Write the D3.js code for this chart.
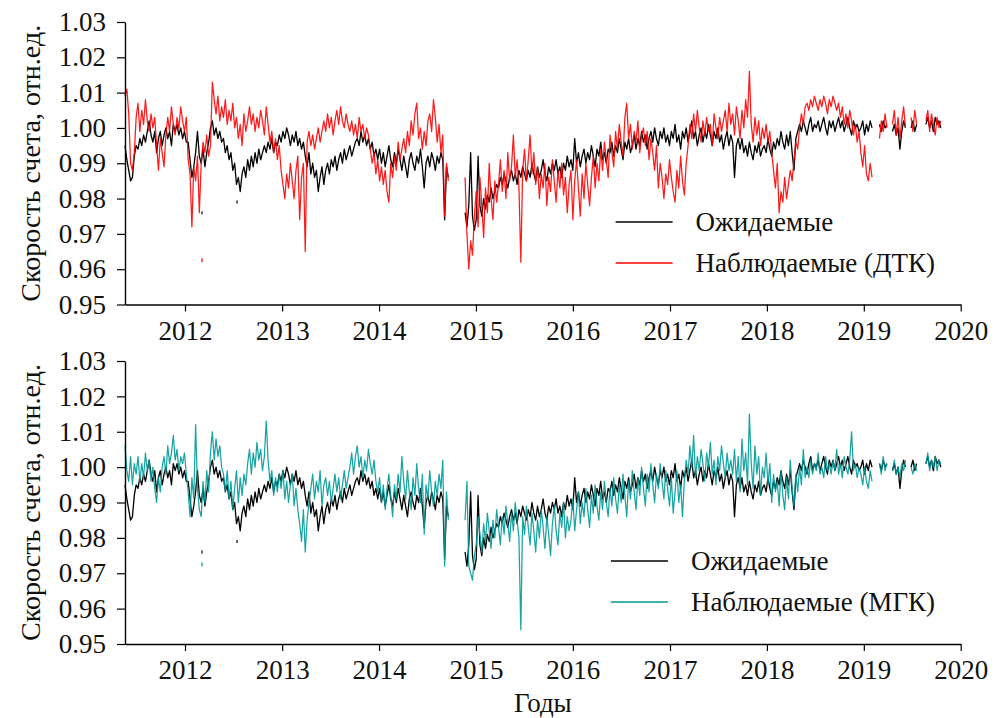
<!DOCTYPE html>
<html>
<head>
<meta charset="utf-8">
<script src="https://cdn.jsdelivr.net/npm/d3@7"></script>
<style>
  html, body { margin: 0; padding: 0; background: #ffffff; }
  svg text { font-family: "Liberation Serif", "Tinos", "Times New Roman", "DejaVu Serif", serif; fill: #111; }
</style>
</head>
<body>
<svg id="chart" width="994" height="718"></svg>
<script>
// Weekly samples of the count rate (relative units), starting 20 May 2011.
// null marks weeks without measurements.
const firstSample = "2011-05-20";
const stepDays = 7;

// Expected count rate
const expected2011 = [0.995,0.991,0.988,0.985,0.986,0.992,0.995,0.994,0.997,0.995,
  0.998,0.996,0.999,1.002,0.998,0.996,0.999,0.993,0.997,0.999,
  0.995,0.998,1.000,0.997,0.999,0.995,1.001,0.999,1.001,0.998,
  1.000,0.997];
const expected2012 = [0.999,0.996,0.996,0.991,0.986,0.989,0.993,0.999,0.992,0.990,
  0.994,0.989,0.993,0.996,1.000,1.002,0.998,1.000,0.997,0.999,
  0.996,0.997,0.993,0.995,0.991,0.993,0.988,0.990,0.984,0.986,
  0.982,0.987,0.989,0.986,0.991,0.988,0.992,0.989,0.993,0.990,
  0.994,0.991,0.993,0.995,0.993,0.996,0.994,0.997,0.993,0.996,
  0.995,0.998];
const expected2013 = [0.996,0.999,0.997,1.000,0.998,0.995,0.998,0.996,0.999,0.995,
  0.997,0.994,0.996,0.992,0.989,0.993,0.987,0.990,0.986,0.988,
  0.982,0.986,0.989,0.984,0.988,0.990,0.987,0.991,0.989,0.992,
  0.988,0.991,0.993,0.990,0.994,0.991,0.993,0.995,0.992,0.994,
  0.996,0.997,0.995,0.999,0.996,0.998,0.995,0.997,0.994,0.996,
  0.992,0.994];
const expected2014 = [0.991,0.994,0.990,0.993,0.989,0.992,0.995,0.991,0.989,0.993,
  0.990,0.994,0.991,0.988,0.992,0.989,0.986,0.991,0.993,0.990,
  0.988,0.992,0.990,0.994,0.989,0.983,0.990,0.992,0.989,0.993,
  0.991,0.988,0.992,0.990,0.993,0.991,0.974,0.989,0.986,null,
  null,null,null,null,null,null,null,0.976,0.972,0.978,
  0.993,0.975];
const expected2015 = [0.971,0.974,0.992,0.978,0.975,0.980,0.977,0.981,0.979,0.983,
  0.980,0.982,0.984,0.983,0.986,0.984,0.987,0.985,0.983,0.986,
  0.988,0.985,0.987,0.984,0.988,0.986,0.989,0.987,0.985,0.988,
  0.986,0.990,0.987,0.985,0.989,0.986,0.988,0.991,0.987,0.985,
  0.989,0.987,0.990,0.988,0.991,0.987,0.989,0.986,0.990,0.988,
  0.992,0.989];
const expected2016 = [0.991,0.988,0.997,0.990,0.993,0.989,0.992,0.994,0.990,0.993,
  0.991,0.995,0.992,0.989,0.994,0.992,0.996,0.991,0.993,0.990,
  0.994,0.993,0.996,0.992,0.995,0.993,0.997,0.994,0.991,0.996,
  0.994,0.997,0.993,0.995,0.998,0.994,0.997,0.995,0.999,0.996,
  0.998,0.994,0.997,0.999,0.996,1.000,0.997,0.995,0.999,0.997,
  1.000,0.996];
const expected2017 = [0.998,0.995,0.999,0.997,1.001,0.996,0.998,0.994,0.999,0.997,
  1.000,0.996,0.999,1.002,0.997,0.999,0.995,0.998,1.000,0.996,
  0.999,0.997,1.001,0.998,0.995,0.999,0.997,1.000,0.996,0.998,
  0.994,0.997,0.999,0.995,0.998,0.996,0.986,0.995,0.997,0.994,
  0.997,0.993,0.995,0.992,0.996,0.993,0.991,0.995,0.993,0.996,
  0.992,0.994];
const expected2018 = [0.995,0.993,0.997,0.994,0.992,0.996,0.994,0.997,0.995,0.999,
  0.996,0.994,0.998,0.995,0.999,0.993,0.988,0.997,0.999,1.001,
  0.999,1.002,1.000,0.998,1.001,1.003,0.999,1.001,1.000,1.002,
  0.999,1.001,1.003,1.000,0.998,1.002,1.000,1.002,0.999,1.001,
  1.003,1.000,1.002,0.999,1.001,1.003,1.000,0.998,1.002,1.000,
  1.001,0.999];
const expected2019 = [1.000,1.002,0.998,1.001,0.999,1.002,1.000,null,null,null,
  1.001,0.999,1.002,1.000,1.001,null,null,0.999,1.001,0.998,
  1.000,0.994,0.999,1.002,1.000,null,null,1.000,1.002,0.999,
  1.001,null,null,null,null,1.001,1.003,1.000,1.002,0.999,
  1.003,1.001,1.002,1.000];

// Observed count rate, DTK detector
const dtk2011 = [1.009,1.011,1.004,0.990,0.988,0.993,1.003,1.007,0.999,1.005,
  1.001,1.008,1.002,0.999,1.004,1.000,1.003,0.995,0.988,0.997,
  0.993,0.989,0.998,1.003,0.999,1.006,1.001,0.998,1.003,1.000,
  1.006,1.002];
const dtk2012 = [0.999,1.003,0.991,0.987,0.972,0.989,0.985,0.992,0.976,0.990,
  0.996,0.993,0.998,0.992,0.995,1.013,1.008,1.004,1.009,1.002,
  1.006,1.003,1.008,1.001,1.005,1.002,1.007,1.000,1.003,0.997,
  1.001,0.995,1.004,0.999,1.002,1.006,1.001,1.004,0.999,1.003,
  1.000,1.005,1.002,0.998,1.006,1.001,0.996,0.999,0.993,0.997,
  0.991,0.995];
const dtk2013 = [0.988,0.984,0.980,0.987,0.983,0.990,0.985,0.980,0.988,0.992,
  0.974,0.986,0.990,0.965,0.996,0.999,0.995,0.998,0.994,0.997,
  1.000,0.996,0.999,1.002,0.999,1.004,1.000,1.003,0.998,1.002,
  1.005,1.001,1.006,1.002,1.000,1.004,1.001,0.999,1.002,0.998,
  1.001,0.997,1.003,0.999,1.001,0.997,1.000,0.998,0.994,0.990,
  0.993,0.987];
const dtk2014 = [0.991,0.985,0.989,0.984,0.988,0.982,0.979,0.990,0.986,0.992,
  0.988,0.996,0.991,0.994,0.997,0.993,0.999,0.995,1.002,0.998,
  1.004,1.007,0.997,1.000,0.994,0.999,0.995,1.002,1.004,0.999,
  1.008,1.003,0.996,1.001,0.993,0.998,0.975,0.990,0.985,null,
  null,null,null,null,null,null,null,0.986,0.970,0.960,
  0.968,0.964];
const dtk2015 = [0.975,0.982,0.972,0.986,0.978,0.969,0.983,0.976,0.990,0.980,
  0.974,0.985,0.979,0.984,0.991,0.982,0.988,0.980,0.993,0.985,
  0.989,0.998,0.986,0.991,0.983,0.962,0.988,0.994,0.985,0.991,
  0.998,0.987,0.993,0.984,0.989,0.980,0.987,0.983,0.990,0.978,
  0.986,0.982,0.991,0.985,0.979,0.988,0.983,0.990,0.981,0.986,
  0.976,0.984];
const dtk2016 = [0.988,0.974,0.985,0.991,0.983,0.975,0.987,0.980,0.990,0.984,
  0.978,0.986,0.992,0.983,0.990,0.985,0.994,0.988,0.996,0.991,
  0.986,0.998,0.993,0.989,0.999,0.994,1.001,0.996,0.992,1.003,
  1.007,0.997,1.001,0.994,0.999,0.996,1.002,0.993,0.998,1.000,
  0.995,0.999,0.991,0.997,0.993,0.988,0.995,0.983,0.990,0.986,
  0.980,0.987];
const dtk2017 = [0.984,0.991,0.986,0.982,0.979,0.988,0.983,0.992,0.985,0.981,
  0.990,0.995,1.001,0.997,1.004,0.999,1.005,1.000,0.996,1.002,
  0.998,1.003,0.999,1.001,0.995,1.004,1.000,0.997,1.003,0.999,
  1.002,1.005,0.999,1.007,1.001,1.004,0.998,1.006,1.002,0.997,
  1.005,1.000,1.008,1.003,1.016,1.001,0.996,1.003,0.998,1.002,
  0.995,1.000];
const dtk2018 = [0.997,1.001,0.996,0.999,0.993,0.988,0.983,0.990,0.976,0.982,
  0.979,0.986,0.980,0.984,0.988,0.985,0.991,0.996,0.994,1.000,
  1.004,1.001,1.006,1.007,1.005,1.008,1.006,1.009,1.007,1.005,
  1.008,1.006,1.009,1.007,1.004,1.008,1.006,1.009,1.007,1.005,
  1.007,1.003,1.006,1.001,1.004,1.000,1.005,1.002,0.998,1.001,
  0.996,0.999];
const dtk2019 = [0.993,0.989,0.995,0.987,0.985,0.990,0.986,null,null,null,
  0.997,1.002,0.999,1.004,1.000,null,null,1.001,1.005,0.998,
  1.003,0.997,1.002,1.006,1.000,null,null,1.003,0.999,1.005,
  1.001,null,null,null,null,1.002,1.005,0.999,1.004,1.001,
  0.998,1.003,1.000,1.002];

// Observed count rate, MGK detector
const mgk2011 = [1.006,0.999,0.996,1.003,0.995,1.001,0.998,1.003,0.996,1.001,
  0.997,1.004,0.999,1.002,0.996,1.000,0.994,0.990,0.997,0.993,
  1.000,1.003,0.998,1.006,1.001,1.004,1.009,1.002,1.005,0.999,
  1.003,1.001];
const mgk2012 = [1.004,0.998,0.993,0.986,0.997,0.991,1.012,0.994,0.988,0.986,
  0.996,0.990,0.999,0.993,1.004,1.010,1.002,1.008,1.003,1.006,
  1.000,0.998,0.993,0.999,0.991,0.996,0.988,0.994,0.999,0.990,
  0.997,0.992,0.998,0.995,1.001,1.005,0.998,1.004,1.000,1.007,
  1.002,1.005,0.999,1.003,1.013,1.002,0.996,0.999,0.992,0.997,
  0.993,0.998];
const mgk2013 = [0.994,0.999,0.991,0.996,0.990,0.995,0.998,0.989,0.994,0.988,
  0.984,0.979,0.988,0.976,0.985,0.990,0.994,0.998,0.991,0.996,
  0.993,0.999,0.989,0.995,0.997,0.992,0.996,0.990,0.994,0.998,
  0.993,0.997,0.991,0.995,0.999,0.994,0.997,1.000,1.004,0.998,
  1.003,1.006,1.000,1.003,0.997,1.002,0.999,1.005,1.001,0.998,
  1.002,0.996];
const mgk2014 = [0.993,0.997,0.990,0.995,0.988,0.994,0.998,0.992,0.986,0.995,
  0.991,0.998,0.993,1.003,0.996,0.991,0.999,0.993,0.988,0.997,
  0.992,1.001,0.994,0.990,0.998,0.981,0.995,0.991,0.999,0.993,
  0.989,0.996,0.992,0.998,0.994,1.002,0.972,0.993,0.985,null,
  null,null,null,null,null,null,null,0.985,0.996,0.972,
  0.970,0.968];
const mgk2015 = [0.975,0.978,0.986,0.981,0.976,0.984,0.979,0.987,0.982,0.977,
  0.985,0.980,0.988,0.983,0.978,0.986,0.981,0.989,0.984,0.979,
  0.987,0.982,0.990,0.985,0.980,0.954,0.986,0.981,0.989,0.983,
  0.978,0.987,0.982,0.976,0.985,0.980,0.988,0.983,0.977,0.986,
  0.981,0.975,0.984,0.989,0.982,0.978,0.987,0.983,0.990,0.980,
  0.986,0.982];
const mgk2016 = [0.985,0.991,0.982,0.988,0.993,0.984,0.990,0.986,0.994,0.988,
  0.983,0.992,0.987,0.995,0.989,0.985,0.993,0.988,0.996,0.990,
  0.986,0.994,0.989,0.997,0.991,0.987,0.995,0.990,0.998,0.992,
  0.986,0.996,0.991,0.999,0.993,0.988,0.997,0.992,1.000,0.994,
  0.989,0.998,0.993,1.001,0.995,0.990,0.998,0.994,1.001,0.996,
  0.991,0.999];
const mgk2017 = [0.994,0.989,0.997,0.987,0.993,0.999,0.990,0.995,0.986,0.996,
  1.002,0.998,1.006,1.000,1.009,0.997,1.003,0.999,1.005,1.001,
  0.996,1.004,1.000,1.007,0.998,1.002,0.995,1.003,0.999,1.006,
  1.001,0.997,1.004,0.999,1.002,0.998,1.005,0.996,1.003,0.993,
  1.008,0.999,1.004,0.995,1.015,1.001,0.994,1.006,0.998,1.003,
  0.992,1.000];
const mgk2018 = [0.997,1.004,0.995,1.001,0.990,0.998,0.993,0.996,0.989,0.999,
  0.992,0.988,0.997,0.991,1.002,0.994,0.989,0.998,0.993,1.000,
  0.995,1.005,0.997,1.000,0.997,1.002,0.998,1.001,0.999,1.004,
  0.998,1.000,0.997,1.003,0.999,1.001,0.998,1.002,0.999,1.005,
  0.998,1.001,0.997,1.003,1.000,0.998,1.002,1.010,0.999,1.001,
  0.997,1.000];
const mgk2019 = [0.998,0.995,1.000,0.996,0.994,0.999,0.996,null,null,null,
  1.001,0.998,1.003,0.999,1.001,null,null,0.999,1.002,0.998,
  1.000,0.997,1.001,0.999,1.002,null,null,1.000,0.998,1.001,
  0.999,null,null,null,null,1.001,1.004,0.999,1.002,1.000,
  1.003,0.999,1.002,1.001];

// Single isolated readings (date, value)
const strayExpected = [["2012-03-05", 0.976], ["2012-07-15", 0.979]];
const strayDTK = [["2012-03-05", 0.9625]];
const strayMGK = [["2012-03-05", 0.9725]];

// Axis ticks and labels
const yearTicks = [2012, 2013, 2014, 2015, 2016, 2017, 2018, 2019, 2020];
const rateTicks = [0.95, 0.96, 0.97, 0.98, 0.99, 1.00, 1.01, 1.02, 1.03];
const rateDomain = [0.95, 1.03];
const xDomainEnd = "2020-01-01";
const yLabel = "Скорость счета, отн.ед.";
const xLabel = "Годы";
const expectedName = "Ожидаемые";
const dtkName = "Наблюдаемые (ДТК)";
const mgkName = "Наблюдаемые (МГК)";

// ---------------------------------------------------------------
const parse = d3.timeParse("%Y-%m-%d");
const start = parse(firstSample);
const toSeries = arr => arr.map((v, i) => ({ date: d3.timeDay.offset(start, i * stepDays), v }));
const toStray = arr => arr.map(([d, v]) => ({ date: parse(d), v }));

const expected = toSeries([].concat(expected2011, expected2012, expected2013, expected2014,
  expected2015, expected2016, expected2017, expected2018, expected2019));
const dtk = toSeries([].concat(dtk2011, dtk2012, dtk2013, dtk2014, dtk2015,
  dtk2016, dtk2017, dtk2018, dtk2019));
const mgk = toSeries([].concat(mgk2011, mgk2012, mgk2013, mgk2014, mgk2015,
  mgk2016, mgk2017, mgk2018, mgk2019));

const FONT = "'Liberation Serif', 'Tinos', 'Times New Roman', 'DejaVu Serif', serif";
const svg = d3.select("#chart");

const x = d3.scaleTime()
  .domain([start, parse(xDomainEnd)])
  .range([125, 960.7]);

const panels = [
  { top: 22, bottom: 304.5, obs: dtk, stray: strayDTK, color: "#ff0000", name: dtkName },
  { top: 361, bottom: 644, obs: mgk, stray: strayMGK, color: "#009a9a", name: mgkName }
];

panels.forEach(p => {
  const y = d3.scaleLinear().domain(rateDomain).range([p.bottom, p.top]);
  const g = svg.append("g");

  const line = d3.line()
    .defined(d => d.v != null)
    .x(d => x(d.date))
    .y(d => y(d.v));

  // expected series
  g.append("path")
    .datum(expected)
    .attr("d", line)
    .attr("fill", "none")
    .attr("stroke", "#000")
    .attr("stroke-width", 1.3)
    .attr("stroke-linejoin", "round");

  g.selectAll(".strayE")
    .data(toStray(strayExpected))
    .join("line")
    .attr("x1", d => x(d.date)).attr("x2", d => x(d.date))
    .attr("y1", d => y(d.v) - 1.5).attr("y2", d => y(d.v) + 1.5)
    .attr("stroke", "#000").attr("stroke-width", 1.2);

  // observed series
  g.append("path")
    .datum(p.obs)
    .attr("d", line)
    .attr("fill", "none")
    .attr("stroke", p.color)
    .attr("stroke-width", 1.25)
    .attr("stroke-opacity", 0.9)
    .attr("stroke-linejoin", "round");

  g.selectAll(".strayO")
    .data(toStray(p.stray))
    .join("line")
    .attr("x1", d => x(d.date)).attr("x2", d => x(d.date))
    .attr("y1", d => y(d.v) - 2).attr("y2", d => y(d.v) + 2)
    .attr("stroke", p.color).attr("stroke-width", 1.2);

  // axes
  const yAxis = g.append("g")
    .attr("transform", "translate(125,0)")
    .call(d3.axisLeft(y).tickValues(rateTicks).tickFormat(d3.format(".2f"))
      .tickSize(8).tickSizeOuter(0).tickPadding(11));
  const xAxis = g.append("g")
    .attr("transform", `translate(0,${p.bottom})`)
    .call(d3.axisBottom(x).tickValues(yearTicks.map(yr => new Date(yr, 0, 1)))
      .tickFormat(d3.timeFormat("%Y")).tickSize(7).tickSizeOuter(0).tickPadding(9));

  [yAxis, xAxis].forEach(a => {
    a.attr("font-family", FONT).attr("font-size", 27);
    a.select(".domain").attr("stroke", "#000").attr("stroke-width", 1.4);
    a.selectAll(".tick line").attr("stroke", "#000").attr("stroke-width", 1.2);
    a.selectAll(".tick text").attr("fill", "#111").style("font-family", FONT);
  });

  // y-axis title, sized to span the panel height
  const yTitle = g.append("text")
    .attr("transform", `translate(40,${(p.top + p.bottom) / 2}) rotate(-90)`)
    .attr("text-anchor", "middle")
    .attr("font-size", 26)
    .style("font-family", FONT)
    .text(yLabel);
  const titleLen = yTitle.node().getComputedTextLength();
  if (titleLen > 0) yTitle.attr("font-size", Math.min(29, 26 * 277 / titleLen));

  // legend
  const legendRight = 935;
  const entries = [
    { name: expectedName, color: "#000", dy: 200 },
    { name: p.name, color: p.color, dy: 241 }
  ];
  const texts = entries.map(e => g.append("text")
    .attr("font-size", 27)
    .style("font-family", FONT)
    .attr("y", p.top + e.dy + 9)
    .text(e.name));
  const maxW = d3.max(texts, t => t.node().getComputedTextLength());
  const textX = legendRight - maxW;
  texts.forEach(t => t.attr("x", textX));
  entries.forEach(e => {
    g.append("line")
      .attr("x1", textX - 80).attr("x2", textX - 23)
      .attr("y1", p.top + e.dy).attr("y2", p.top + e.dy)
      .attr("stroke", e.color).attr("stroke-width", 1.3);
  });
});

// x-axis title
svg.append("text")
  .attr("x", (125 + 960.7) / 2)
  .attr("y", 712)
  .attr("text-anchor", "middle")
  .attr("font-size", 27)
  .style("font-family", FONT)
  .text(xLabel);
</script>
</body>
</html>
